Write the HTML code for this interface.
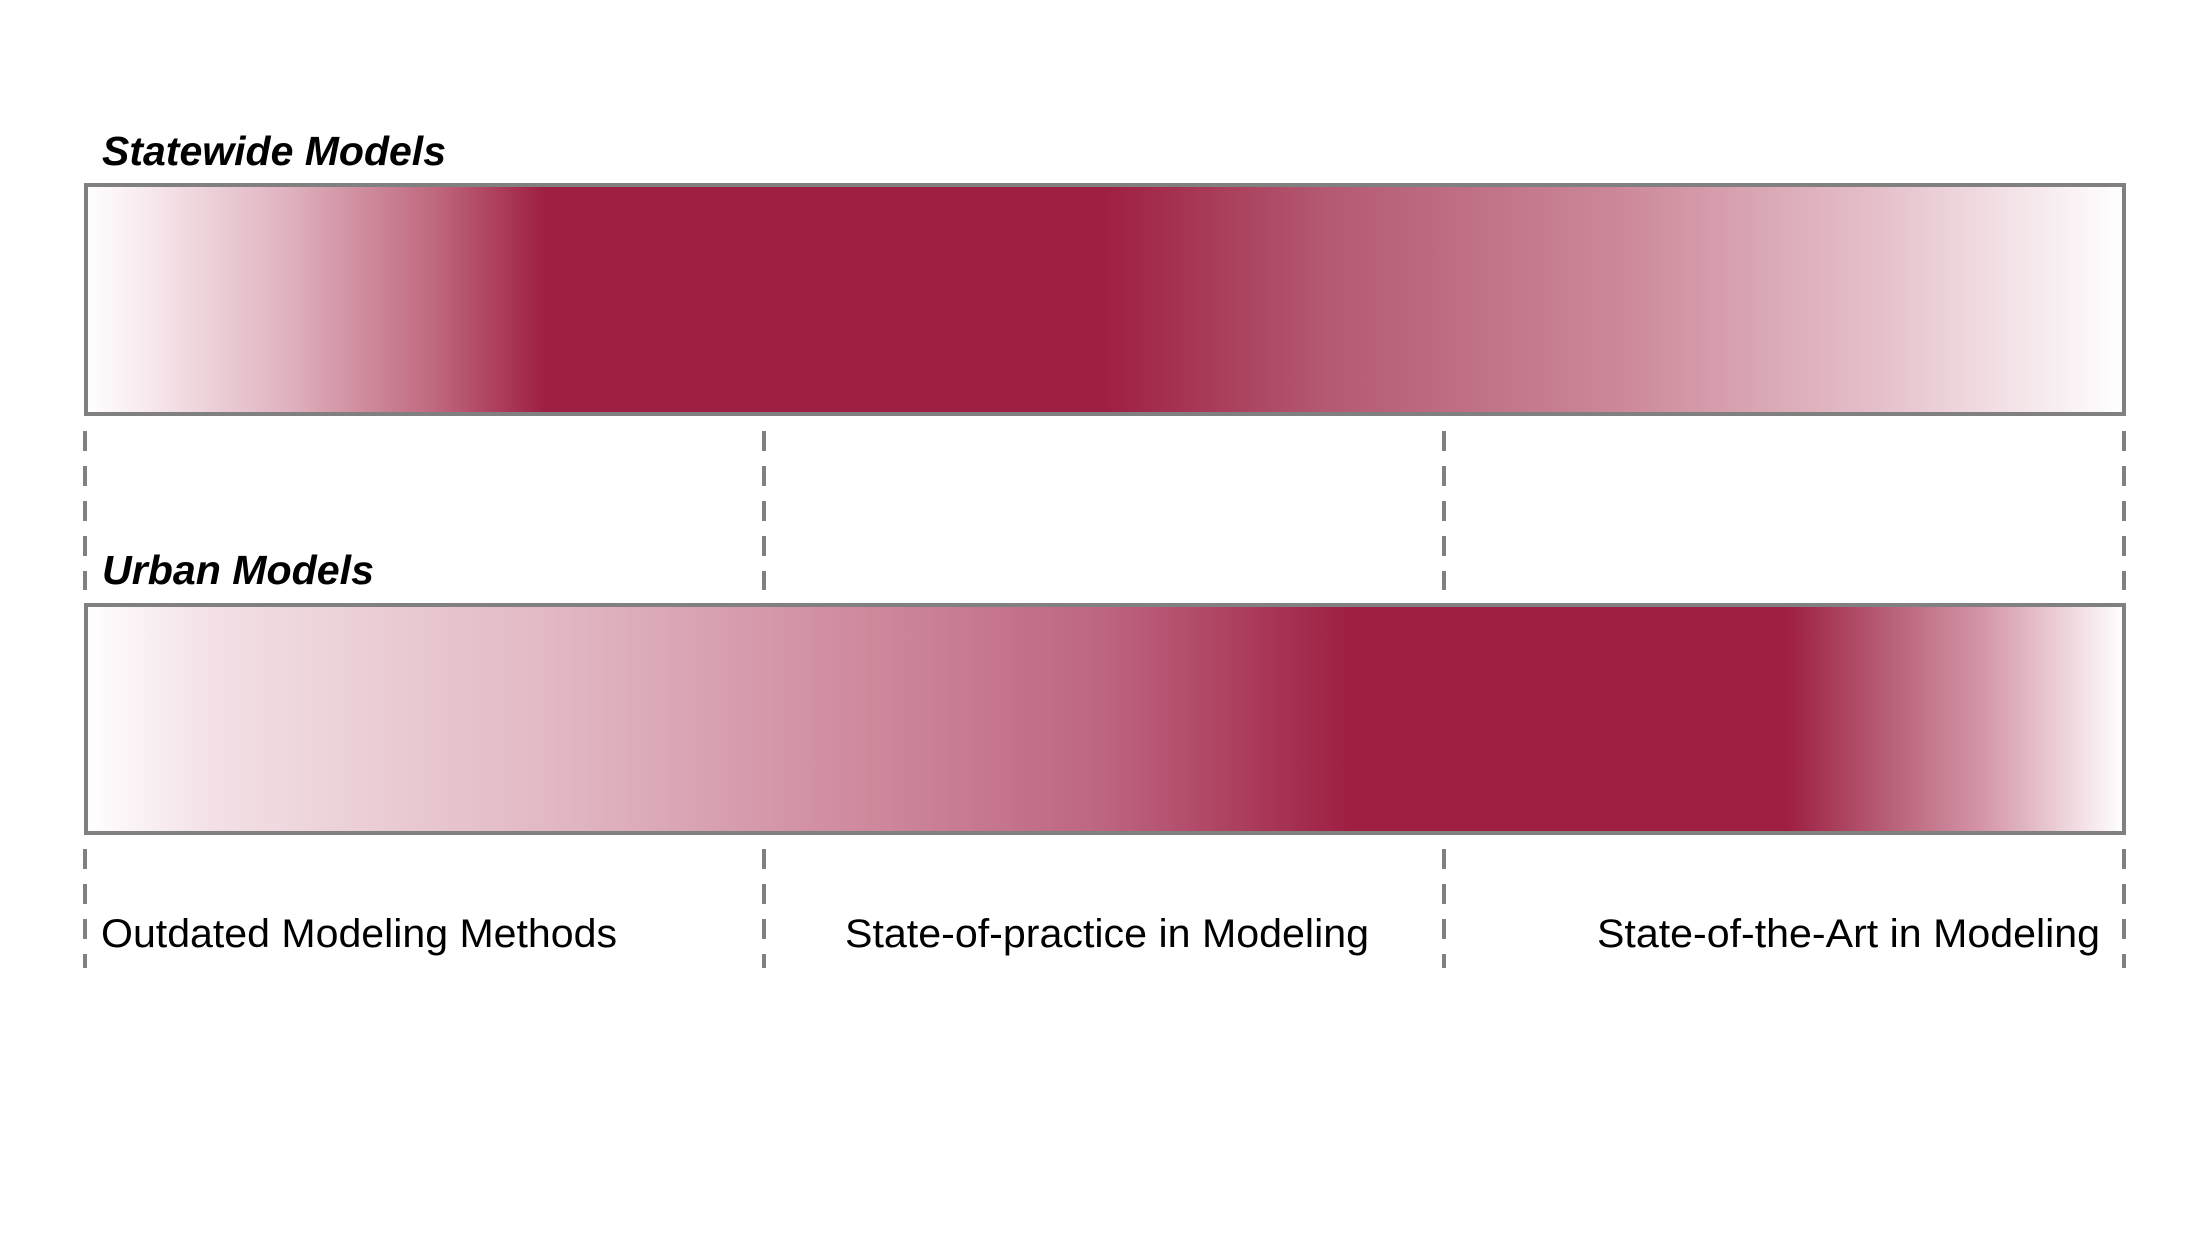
<!DOCTYPE html>
<html><head><style>html,body{margin:0;padding:0;background:#fff;width:2200px;height:1238px;overflow:hidden}</style></head>
<body>
<svg width="2200" height="1238" viewBox="0 0 2200 1238" xmlns="http://www.w3.org/2000/svg">
<defs>
<linearGradient id="g1" x1="0" x2="1" y1="0" y2="0">
<stop offset="0" stop-color="#ffffff"/>
<stop offset="0.03" stop-color="#f7e9ed"/>
<stop offset="0.10" stop-color="#dfb1be"/>
<stop offset="0.17" stop-color="#c0697f"/>
<stop offset="0.225" stop-color="#9e1f42"/>
<stop offset="0.50" stop-color="#9e1f42"/>
<stop offset="0.61" stop-color="#b45a72"/>
<stop offset="0.75" stop-color="#cc8799"/>
<stop offset="0.88" stop-color="#e5c0ca"/>
<stop offset="1" stop-color="#ffffff"/>
</linearGradient>
<linearGradient id="g2" x1="0" x2="1" y1="0" y2="0">
<stop offset="0" stop-color="#ffffff"/>
<stop offset="0.06" stop-color="#f3e1e6"/>
<stop offset="0.24" stop-color="#e0b5c1"/>
<stop offset="0.38" stop-color="#cf8a9d"/>
<stop offset="0.50" stop-color="#bd6580"/>
<stop offset="0.62" stop-color="#9e1f42"/>
<stop offset="0.835" stop-color="#9e1f42"/>
<stop offset="0.88" stop-color="#b55a72"/>
<stop offset="0.93" stop-color="#d495a7"/>
<stop offset="1" stop-color="#ffffff"/>
</linearGradient>
</defs>
<g font-family="'Liberation Sans', Arial, sans-serif">
<text x="102" y="165" font-size="41" font-weight="bold" font-style="italic" textLength="344" lengthAdjust="spacingAndGlyphs">Statewide Models</text>
<text x="102" y="584" font-size="41" font-weight="bold" font-style="italic" textLength="272" lengthAdjust="spacingAndGlyphs">Urban Models</text>
<rect x="86" y="185" width="2038" height="229" fill="url(#g1)" stroke="#808080" stroke-width="4"/>
<rect x="86" y="605" width="2038" height="228" fill="url(#g2)" stroke="#808080" stroke-width="4"/>
<g stroke="#808080" stroke-width="4" stroke-dasharray="20 15">
<line x1="85" y1="431" x2="85" y2="590"/><line x1="764" y1="431" x2="764" y2="590"/>
<line x1="1444" y1="431" x2="1444" y2="590"/><line x1="2124" y1="431" x2="2124" y2="590"/>
<line x1="85" y1="849" x2="85" y2="968"/><line x1="764" y1="849" x2="764" y2="968"/>
<line x1="1444" y1="849" x2="1444" y2="968"/><line x1="2124" y1="849" x2="2124" y2="968"/>
</g>
<text x="101" y="947" font-size="40" textLength="516" lengthAdjust="spacingAndGlyphs">Outdated Modeling Methods</text>
<text x="845" y="947" font-size="40" textLength="524" lengthAdjust="spacingAndGlyphs">State-of-practice in Modeling</text>
<text x="1597" y="947" font-size="40" textLength="503" lengthAdjust="spacingAndGlyphs">State-of-the-Art in Modeling</text>
</g>
</svg>
</body></html>
